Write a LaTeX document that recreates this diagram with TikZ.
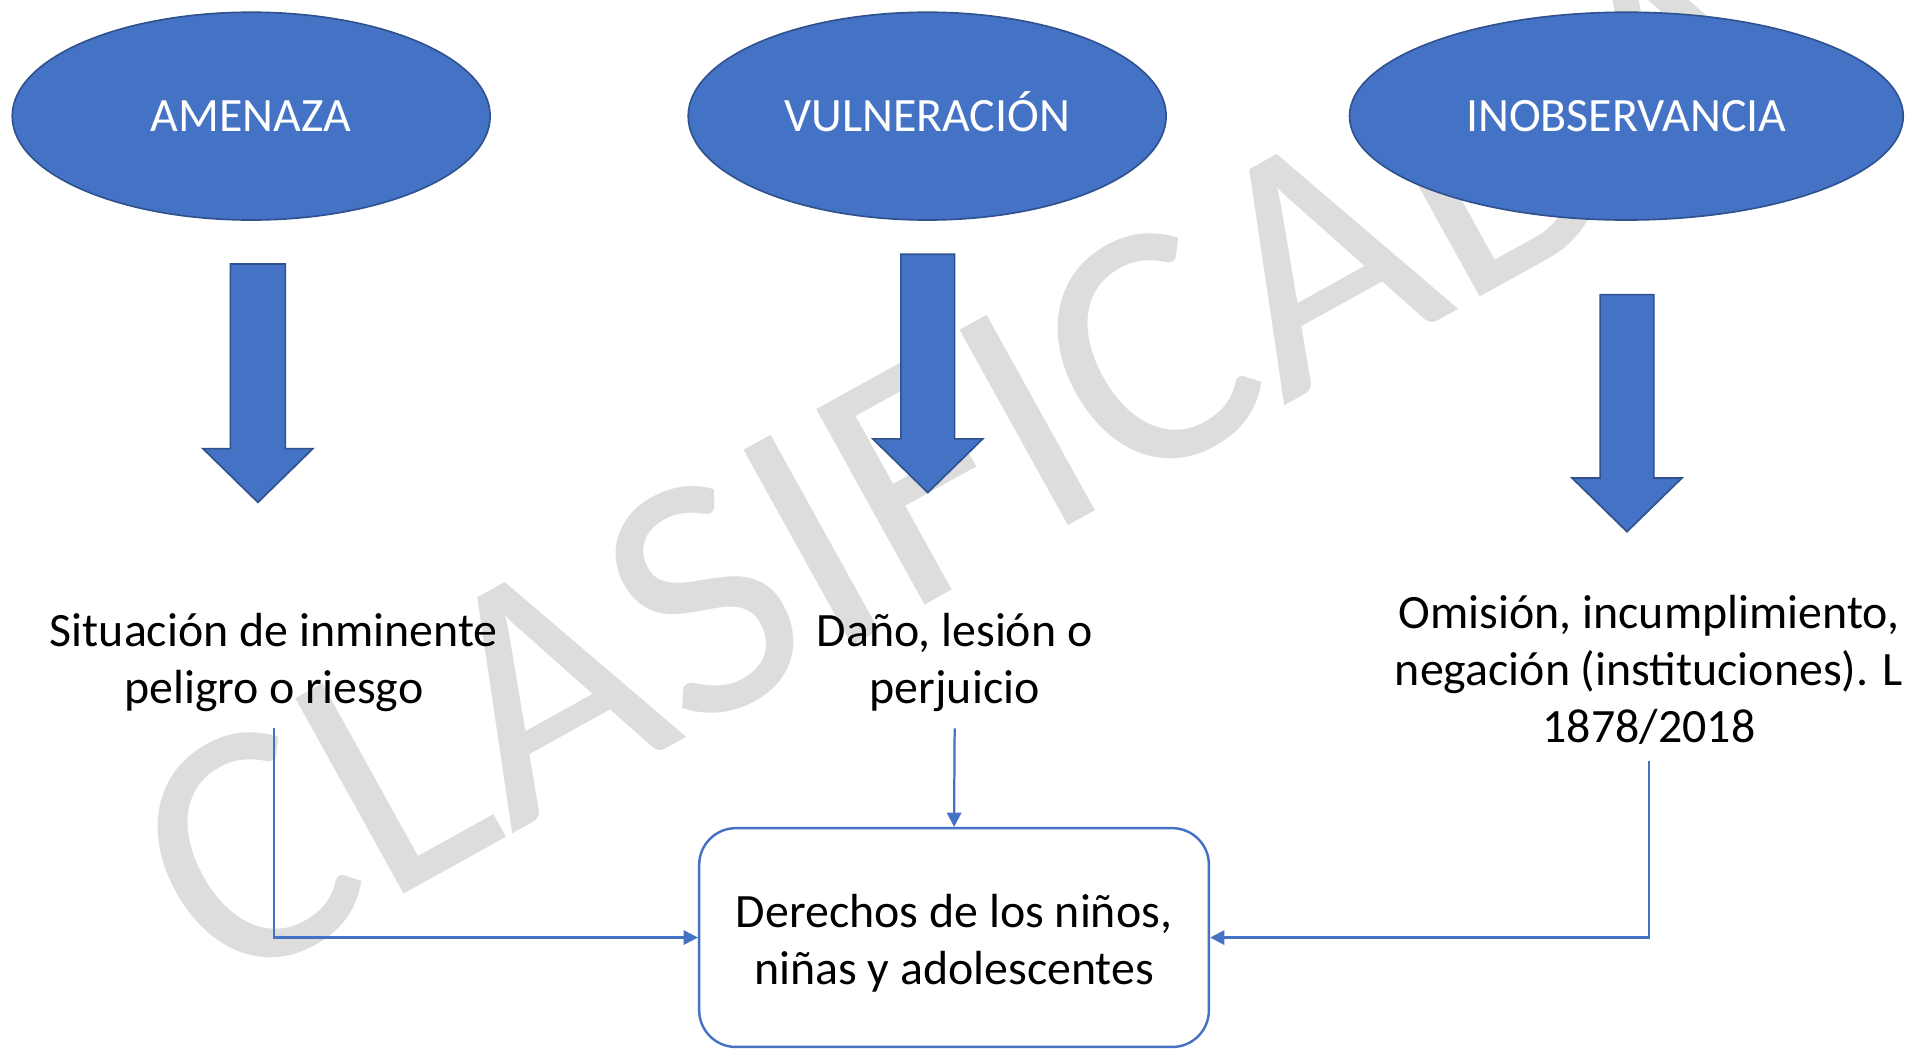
\documentclass[tikz,border=0pt]{standalone}
\usepackage{fontspec}
\setmainfont{Carlito}
\usetikzlibrary{shapes.geometric,arrows.meta}
\definecolor{ofblue}{HTML}{4472C4}
\definecolor{ofdark}{HTML}{2F528F}
\definecolor{wmgray}{RGB}{221,221,221}
\begin{document}
\begin{tikzpicture}[x=0.6pt,y=-0.6pt,
  oval/.style={ellipse, draw=ofdark, fill=ofblue, line width=0.8pt, text=white,
    inner sep=0pt, minimum height=102pt, text height=15pt, text depth=0pt,
    font=\fontsize{23.5}{28}\selectfont},
  barrow/.style={draw=ofdark, fill=ofblue, line width=0.8pt, line join=miter},
  txt/.style={align=center, inner sep=8pt, font=\fontsize{23.5}{28}\selectfont},
  target/.style={draw=ofblue, line width=1.2pt, rounded corners=18pt, align=center,
    minimum width=250.2pt, minimum height=107.4pt, inner sep=0pt,
    font=\fontsize{23.5}{28}\selectfont},
  conn/.style={draw=ofblue, line width=1.1pt, -{Triangle[length=7pt,width=7pt]}}]
\useasboundingbox (0,0) rectangle (1565,858.2);
% watermark
\node[rotate=29, text=wmgray, font=\fontsize{171}{171}\selectfont] (wm) at (790,372) {CLASIFICADA};
% ovals
\node[oval, minimum width=234.6pt] (amenaza) at (205.5,95) {AMENAZA};
\node[oval, minimum width=234.6pt] (vulner) at (758.5,95) {VULNERACIÓN};
\node[oval, minimum width=271.8pt] (inobs) at (1330.5,95) {INOBSERVANCIA};
% block arrows
\draw[barrow] (188.5,216) -- (233.5,216) -- (233.5,367) -- (256,367) -- (211,411) -- (166,367) -- (188.5,367) -- cycle;
\draw[barrow] (737,208) -- (781,208) -- (781,359) -- (804,359) -- (759,403) -- (714,359) -- (737,359) -- cycle;
\draw[barrow] (1309,241) -- (1353,241) -- (1353,391) -- (1376,391) -- (1331,435) -- (1286,391) -- (1309,391) -- cycle;
% texts
\node[txt] (t1) at (224,542) {Situación de inminente\\peligro o riesgo};
\node[txt] (t2) at (781,542) {Daño, lesión o\\perjuicio};
\node[txt] (t3) at (1349,548) {Omisión, incumplimiento,\\negación (instituciones). L\\1878/2018};
% target box
\node[target, text height=50pt] (box) at (780.5,767) {Derechos de los niños,\\niñas y adolescentes};
% connectors
\draw[conn] (t1.south) |- (box.west);
\draw[conn] (t2.south) -- (box.north);
\draw[conn] (t3.south) |- (box.east);
\end{tikzpicture}
\end{document}
